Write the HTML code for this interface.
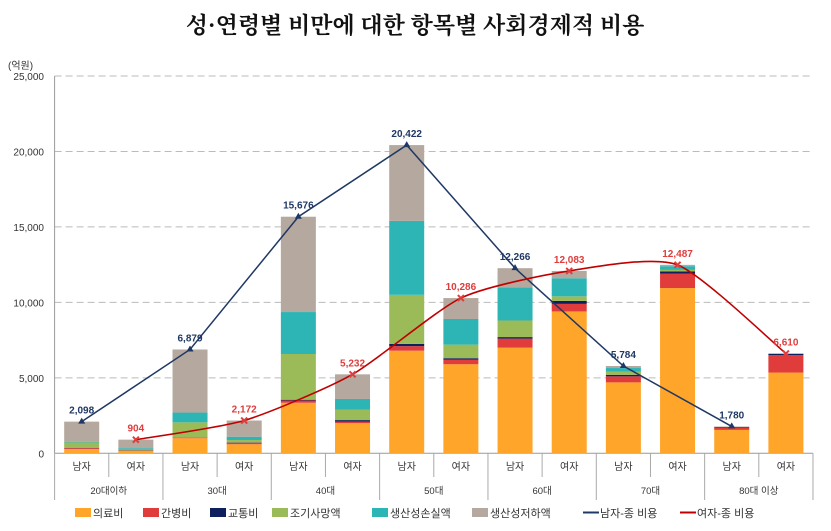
<!DOCTYPE html>
<html><head><meta charset="utf-8"><style>
body{margin:0;background:#fff;}
svg{display:block;font-family:"Liberation Sans","Noto Sans CJK KR",sans-serif;}
</style></head><body>
<svg id="c" width="831" height="531" xmlns="http://www.w3.org/2000/svg"></svg>
<script>
const s=document.getElementById('c');
let h='';
h+='<text x="415" y="33" text-anchor="middle" font-family="Liberation Serif,Noto Serif CJK SC,serif" font-weight="bold" font-size="23" fill="#111">성·연령별 비만에 대한 항목별 사회경제적 비용</text>';
const y0=453.3, k=75.46/5000, L=54.6, W=54.17;
const Y=v=>y0-v*k;
h+='<text x="8" y="69" font-size="10" fill="#333">(억원)</text>';
for(let i=0;i<=5;i++){const y=Y(i*5000);
 if(i>0)h+=`<line x1="${L}" x2="813" y1="${y}" y2="${y}" stroke="#bbb" stroke-dasharray="7,4"/>`;
 h+=`<text x="44" y="${y+4}" text-anchor="end" font-size="10" fill="#333">${i?(i*5)+',000':'0'}</text>`;}
h+=`<line x1="${L}" x2="${L}" y1="76" y2="${y0}" stroke="#999"/>`;
h+=`<line x1="${L}" x2="813" y1="${y0}" y2="${y0}" stroke="#999"/>`;
const cols=['#FFA52A','#E03C3C','#0D1F5C','#9BBB59','#2DB5B5','#B5A89E'];
const bars=[[280,340,350,720,770,2098],[150,180,185,240,340,904],[1000,1030,1040,2050,2700,6879],[600,700,720,880,1100,2172],
[3350,3500,3550,6580,9360,15676],[2000,2100,2200,2900,3600,5232],[6800,7100,7250,10500,15400,20422],[5900,6200,6300,7200,8900,10286],
[7000,7600,7700,8800,11000,12266],[9400,9900,10100,10400,11600,12083],[4700,5100,5200,5400,5650,5784],[10950,11900,12050,12150,12400,12487],
[1550,1700,1740,1740,1750,1780],[5350,6500,6600,6600,6600,6610]];
bars.forEach((b,i)=>{const cx=L+W*(i+.5);let prev=0;
 b.forEach((v,j)=>{if(v>prev)h+=`<rect x="${cx-17.5}" width="35" y="${Y(v)}" height="${Y(prev)-Y(v)}" fill="${cols[j]}"/>`;prev=v;});
 h+=`<text x="${cx}" y="470" text-anchor="middle" font-size="10" fill="#333">${i%2?'여자':'남자'}</text>`;
 h+=`<line x1="${L+W*(i+1)}" x2="${L+W*(i+1)}" y1="${y0}" y2="${i%2?500:477}" stroke="#aaa"/>`;
});
h+=`<line x1="${L}" x2="${L}" y1="${y0}" y2="500" stroke="#aaa"/>`;
['20대이하','30대','40대','50대','60대','70대','80대 이상'].forEach((t,i)=>h+=`<text x="${L+W*(2*i+1)}" y="494" text-anchor="middle" font-size="9.5" fill="#333">${t}</text>`);
const m=[],f=[];bars.forEach((b,i)=>{const p=[L+W*(i+.5),Y(b[5]),b[5]];(i%2?f:m).push(p);});
h+=`<polyline fill="none" stroke="#1F3864" stroke-width="1.5" points="${m.map(p=>p[0]+','+p[1]).join(' ')}"/>`;
let d=`M${f[0][0]},${f[0][1]}`;
const t=9;
for(let i=0;i<f.length-1;i++){const p0=f[i-1]||f[i],p1=f[i],p2=f[i+1],p3=f[i+2]||p2;
 d+=` C${p1[0]+(p2[0]-p0[0])/t},${p1[1]+(p2[1]-p0[1])/t} ${p2[0]-(p3[0]-p1[0])/t},${p2[1]-(p3[1]-p1[1])/t} ${p2[0]},${p2[1]}`;}
h+=`<path d="${d}" fill="none" stroke="#C00000" stroke-width="1.6"/>`;
const fmt=v=>v.toLocaleString('en-US');
m.forEach(p=>{h+=`<path d="M${p[0]-3.5},${p[1]+2} L${p[0]},${p[1]-4} L${p[0]+3.5},${p[1]+2}Z" fill="#1F3864"/>`;
 h+=`<text x="${p[0]}" y="${p[1]-8}" text-anchor="middle" font-size="10" font-weight="bold" fill="#1F3864">${fmt(p[2])}</text>`;});
f.forEach(p=>{h+=`<path d="M${p[0]-3},${p[1]-3}L${p[0]+3},${p[1]+3}M${p[0]+3},${p[1]-3}L${p[0]-3},${p[1]+3}" stroke="#E03C3C" stroke-width="2"/>`;
 h+=`<text x="${p[0]}" y="${p[1]-8}" text-anchor="middle" font-size="10" font-weight="bold" fill="#E03C3C">${fmt(p[2])}</text>`;});
const lg=[[75,'의료비',0],[143,'간병비',1],[210,'교통비',2],[272,'조기사망액',3],[372,'생산성손실액',4],[472,'생산성저하액',5]];
lg.forEach(([x,t,j])=>{h+=`<rect x="${x}" y="508" width="16" height="9" fill="${cols[j]}"/><text x="${x+18}" y="517" font-size="11" fill="#333">${t}</text>`;});
h+=`<line x1="583" x2="599" y1="512.5" y2="512.5" stroke="#1F3864" stroke-width="2"/><text x="600" y="517" font-size="11" fill="#333">남자-종 비용</text>`;
h+=`<line x1="680" x2="696" y1="512.5" y2="512.5" stroke="#C00000" stroke-width="2"/><text x="697" y="517" font-size="11" fill="#333">여자-종 비용</text>`;
s.innerHTML=h;
</script>
</body></html>
